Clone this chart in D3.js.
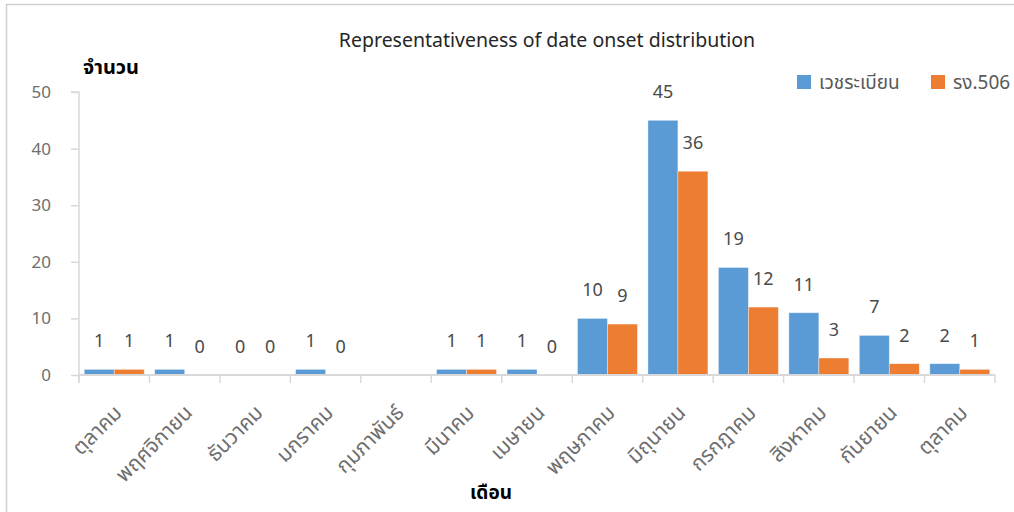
<!DOCTYPE html>
<html>
<head>
<meta charset="utf-8">
<script src="https://cdn.jsdelivr.net/npm/d3@7"></script>
<style>
  html, body { margin: 0; padding: 0; background: #fff; }
  svg { display: block; font-family: "Noto Sans", "Noto Sans Thai", "DejaVu Sans", sans-serif; }
</style>
</head>
<body>
<svg id="chart" width="1014" height="512"></svg>
<script>
// Months (Oct to Oct) and the two case-count series
const months = ["ตุลาคม", "พฤศจิกายน", "ธันวาคม", "มกราคม", "กุมภาพันธ์", "มีนาคม", "เมษายน",
                "พฤษภาคม", "มิถุนายน", "กรกฎาคม", "สิงหาคม", "กันยายน", "ตุลาคม"];
const medicalRecords = [1, 1, 0, 1, null, 1, 1, 10, 45, 19, 11, 7, 2];
const report506 = [1, 0, 0, 0, null, 1, 0, 9, 36, 12, 3, 2, 1];
const seriesNames = ["เวชระเบียน", "รง.506"];
const seriesColors = ["#5B9BD5", "#ED7D31"];
const yTicks = [0, 10, 20, 30, 40, 50];

const svg = d3.select("#chart");
const margin = { left: 79, right: 19, top: 92, bottom: 137 };
const W = 1014, H = 512;

// frame lines (top and left edge)
svg.append("line").attr("x1", 6).attr("x2", 1014).attr("y1", 4.5).attr("y2", 4.5)
  .attr("stroke", "#d0d0d0").attr("stroke-width", 1.5);
svg.append("line").attr("x1", 6.5).attr("x2", 6.5).attr("y1", 4).attr("y2", 512)
  .attr("stroke", "#d0d0d0").attr("stroke-width", 1.5);

const x0 = d3.scaleBand()
  .domain(months.map((m, i) => i))
  .range([margin.left, W - margin.right])
  .paddingInner(0).paddingOuter(0);

const x1 = d3.scaleBand()
  .domain([0, 1])
  .range([0, x0.bandwidth()])
  .paddingInner(0)
  .paddingOuter(0.175);

const y = d3.scaleLinear().domain([0, 50]).range([H - margin.bottom, margin.top]);

const rows = months.map((m, i) => ({ i, m, vals: [medicalRecords[i], report506[i]] }));

// bars
const groups = svg.append("g").selectAll("g").data(rows).join("g")
  .attr("transform", d => `translate(${x0(d.i)},0)`);

groups.selectAll("rect").data(d => d.vals.map((v, s) => ({ v, s })).filter(e => e.v !== null))
  .join("rect")
  .attr("x", e => x1(e.s))
  .attr("width", x1.bandwidth())
  .attr("y", e => y(e.v))
  .attr("height", e => y(0) - y(e.v))
  .attr("fill", e => seriesColors[e.s])
  .attr("stroke", "#ffffff").attr("stroke-opacity", 0.5).attr("stroke-width", 0.75);

// value labels
groups.selectAll("text").data(d => d.vals.map((v, s) => ({ v, s })).filter(e => e.v !== null))
  .join("text")
  .attr("x", e => x1(e.s) + x1.bandwidth() / 2)
  .attr("y", e => y(e.v) - 22)
  .attr("text-anchor", "middle")
  .attr("font-size", 18)
  .attr("fill", "#4a4a4a")
  .text(e => e.v);

// y axis
const yAxis = d3.axisLeft(y).tickValues(yTicks).tickSize(8).tickPadding(20);
const gy = svg.append("g").attr("transform", `translate(${margin.left},0)`).call(yAxis);
gy.select(".domain").attr("stroke", "#d9d9d9").attr("stroke-width", 1.5)
  .attr("d", `M-8,${y(50)}H0V${y(0) + 8}`);
gy.selectAll(".tick line").attr("stroke", "#d9d9d9").attr("stroke-width", 1.5);
gy.selectAll(".tick text").attr("font-size", 17).attr("fill", "#6e6e6e")
  .attr("font-family", "Noto Sans, sans-serif");

// x axis
const xScaleLabels = d3.scalePoint().domain(months.map((m, i) => i))
  .range([x0(0) + x0.bandwidth() / 2, x0(months.length - 1) + x0.bandwidth() / 2]);
const gx = svg.append("g").attr("transform", `translate(0,${y(0)})`);
gx.append("line").attr("x1", margin.left).attr("x2", W - margin.right)
  .attr("stroke", "#d9d9d9").attr("stroke-width", 2);
const boundaries = d3.range(months.length + 1).map(i => margin.left + i * x0.bandwidth());
gx.selectAll("line.tk").data(boundaries).join("line").attr("class", "tk")
  .attr("x1", d => d).attr("x2", d => d).attr("y1", 0).attr("y2", 8)
  .attr("stroke", "#d9d9d9").attr("stroke-width", 1.5);
gx.selectAll("text").data(months.map((m, i) => ({ m, i }))).join("text")
  .attr("transform", d => `translate(${xScaleLabels(d.i) + 9},${39}) rotate(-45)`)
  .attr("text-anchor", "end")
  .attr("font-size", 21)
  .attr("fill", "#6e6e6e")
  .text(d => d.m);

// title and axis titles
svg.append("text").attr("x", 547).attr("y", 47).attr("text-anchor", "middle")
  .attr("font-size", 19.5).attr("fill", "#262626")
  .text("Representativeness of date onset distribution");
svg.append("text").attr("x", 83).attr("y", 74)
  .attr("font-size", 20).attr("font-weight", "bold").attr("fill", "#000")
  .text("จำนวน");
svg.append("text").attr("x", 491).attr("y", 499).attr("text-anchor", "middle")
  .attr("font-size", 19).attr("font-weight", "bold").attr("fill", "#000")
  .text("เดือน");

// legend
const legendX = [797, 931];
seriesNames.forEach((name, s) => {
  svg.append("rect").attr("x", legendX[s]).attr("y", 75).attr("width", 14).attr("height", 14)
    .attr("fill", seriesColors[s]);
  svg.append("text").attr("x", legendX[s] + 22).attr("y", 89)
    .attr("font-size", 19).attr("fill", "#595959").text(name);
});
</script>
</body>
</html>
